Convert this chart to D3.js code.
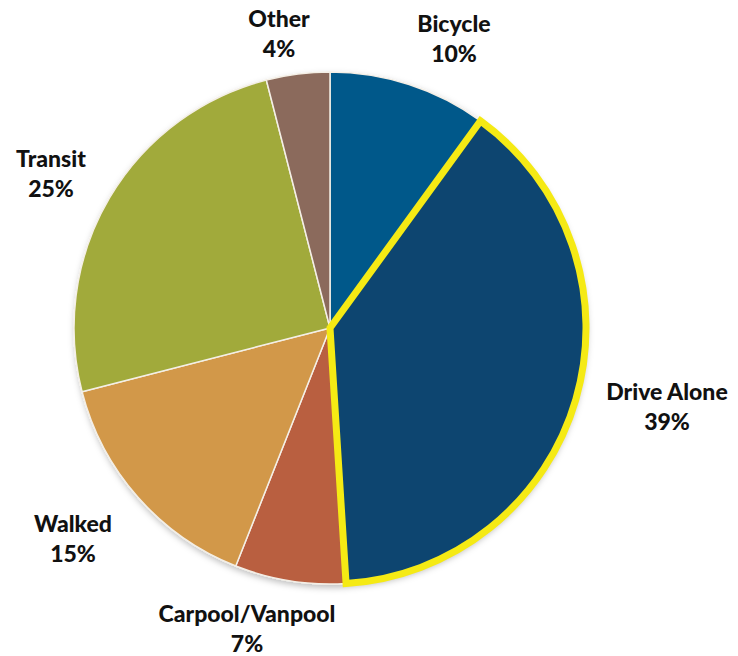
<!DOCTYPE html>
<html>
<head>
<meta charset="utf-8">
<script src="https://cdn.jsdelivr.net/npm/d3@7"></script>
<style>
  html, body { margin: 0; padding: 0; background: #fff; }
  svg text { font-family: "Lato", "DejaVu Sans", sans-serif; font-weight: 900; fill: #111; }
</style>
</head>
<body>
<svg id="chart" width="738" height="656"></svg>
<script>
// Commute mode share, clockwise from 12 o'clock
const modes   = ["Bicycle", "Drive Alone", "Carpool/Vanpool", "Walked", "Transit", "Other"];
const shares  = [10, 39, 7, 15, 25, 4];
const colors  = ["#03588a", "#0b4470", "#b95e40", "#d29849", "#a1aa3b", "#8b6a5b"];
// label anchor points (centre x, first baseline y)
const labelX  = [454, 667, 247, 73, 51, 279];
const labelY  = [32, 400, 622, 532, 167, 27];
const highlight = "Drive Alone";

const svg = d3.select("#chart");
const cx = 330, cy = 328, r = 256;

const defs = svg.append("defs");
const f = defs.append("filter").attr("id", "shadow").attr("x", "-10%").attr("y", "-10%").attr("width", "120%").attr("height", "120%");
f.append("feDropShadow").attr("dx", 1).attr("dy", 3).attr("stdDeviation", 3).attr("flood-color", "#000").attr("flood-opacity", 0.25);

const data = modes.map((m, i) => ({ mode: m, value: shares[i], color: colors[i], lx: labelX[i], ly: labelY[i] }));

const pie = d3.pie().value(d => d.value).sort(null);
const arc = d3.arc().innerRadius(0).outerRadius(r);
const arcs = pie(data);

const g = svg.append("g").attr("transform", `translate(${cx},${cy})`);

g.append("g").attr("filter", "url(#shadow)")
  .selectAll("path").data(arcs).join("path")
  .attr("d", arc)
  .attr("fill", d => d.data.color)
  .attr("stroke", "#f4efe6")
  .attr("stroke-width", 1.5)
  .attr("stroke-linejoin", "round");

// yellow outline around the highlighted slice
g.selectAll("path.hl").data(arcs.filter(d => d.data.mode === highlight)).join("path")
  .attr("class", "hl")
  .attr("d", arc)
  .attr("fill", "none")
  .attr("stroke", "#f5ea14")
  .attr("stroke-width", 7)
  .attr("stroke-linejoin", "miter");

const labels = svg.append("g").selectAll("text").data(data).join("text")
  .attr("text-anchor", "middle")
  .attr("x", d => d.lx)
  .attr("y", d => d.ly)
  .style("font-size", "23px");
labels.append("tspan").attr("x", d => d.lx).text(d => d.mode);
labels.append("tspan").attr("x", d => d.lx).attr("dy", 30).text(d => d.value + "%");
</script>
</body>
</html>
